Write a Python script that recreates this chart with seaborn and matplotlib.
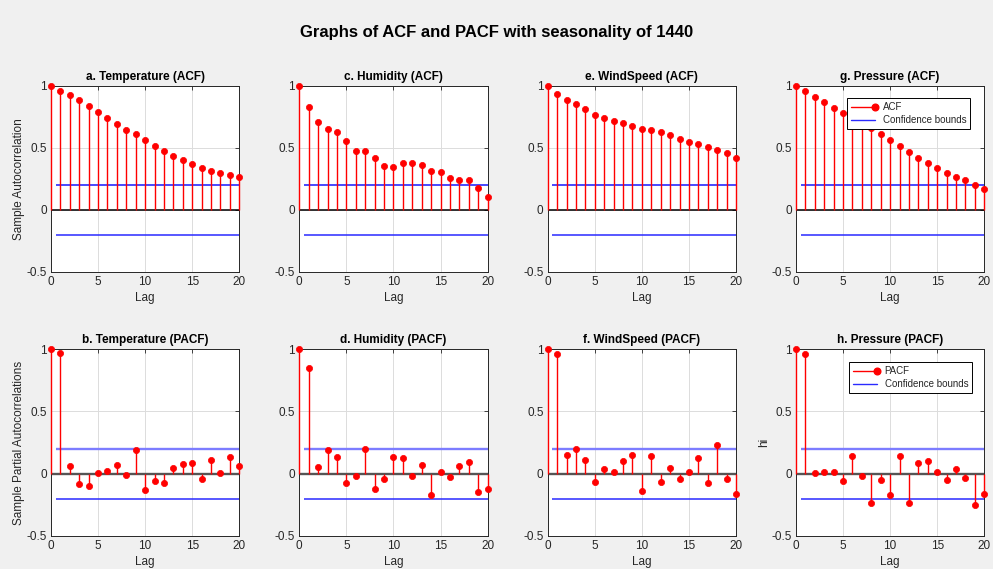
import numpy as np
import pandas as pd
import matplotlib
matplotlib.use("Agg")
import matplotlib.pyplot as plt
import seaborn as sns
from matplotlib.lines import Line2D
from matplotlib.legend_handler import HandlerBase

lags = list(range(21))

temp_acf = [1.0, 0.963, 0.928, 0.888, 0.840, 0.791, 0.741, 0.693, 0.644, 0.610, 0.567,
            0.519, 0.473, 0.436, 0.401, 0.369, 0.340, 0.316, 0.297, 0.281, 0.267]
hum_acf = [1.0, 0.829, 0.706, 0.652, 0.628, 0.553, 0.479, 0.473, 0.422, 0.356, 0.348,
           0.380, 0.380, 0.361, 0.318, 0.305, 0.262, 0.241, 0.238, 0.176, 0.104]
wind_acf = [1.0, 0.936, 0.888, 0.856, 0.816, 0.770, 0.738, 0.714, 0.698, 0.679, 0.655,
            0.644, 0.631, 0.607, 0.575, 0.551, 0.535, 0.505, 0.487, 0.463, 0.417]
pres_acf = [1.0, 0.957, 0.909, 0.869, 0.826, 0.783, 0.743, 0.700, 0.658, 0.610, 0.561,
            0.519, 0.471, 0.422, 0.380, 0.340, 0.299, 0.265, 0.238, 0.203, 0.168]

temp_pacf = [1.0, 0.968, 0.064, -0.086, -0.096, 0.003, 0.021, 0.070, -0.013, 0.190, -0.128,
             -0.061, -0.075, 0.043, 0.078, 0.086, -0.043, 0.110, 0.008, 0.131, 0.064]
hum_pacf = [1.0, 0.850, 0.056, 0.193, 0.131, -0.075, -0.019, 0.195, -0.126, -0.045, 0.134,
            0.128, -0.016, 0.072, -0.174, 0.016, -0.029, 0.061, 0.094, -0.144, -0.126]
wind_pacf = [1.0, 0.963, 0.152, 0.195, 0.107, -0.067, 0.035, 0.013, 0.099, 0.152, -0.142,
             0.144, -0.070, 0.048, -0.040, 0.013, 0.123, -0.078, 0.233, -0.040, -0.163]
pres_pacf = [1.0, 0.960, 0.008, 0.016, 0.016, -0.061, 0.142, -0.019, -0.235, -0.051, -0.171,
             0.144, -0.233, 0.088, 0.099, 0.016, -0.053, 0.037, -0.035, -0.249, -0.163]

conf_bound = 0.2

acf_titles = ["a. Temperature (ACF)", "c. Humidity (ACF)", "e. WindSpeed (ACF)", "g. Pressure (ACF)"]
pacf_titles = ["b. Temperature (PACF)", "d. Humidity (PACF)", "f. WindSpeed (PACF)", "h. Pressure (PACF)"]
acf_series = [temp_acf, hum_acf, wind_acf, pres_acf]
pacf_series = [temp_pacf, hum_pacf, wind_pacf, pres_pacf]

sns.set_theme(style="white")
plt.rcParams["font.family"] = ["Liberation Sans", "DejaVu Sans"]

BG = "#f0f0f0"
TXT = "#262626"
STEM = "#ff0000"
BOUND = "#2a2aff"
fig = plt.figure(figsize=(9.93, 5.69), dpi=100, facecolor=BG)

W, H = 993, 569
col_left = [51, 299.3, 547.7, 796]
ax_w = 188.3
rows = [(86, 272), (349, 536)]


class StemLegendHandler(HandlerBase):
    """Legend entry for a stem series: a line with the marker at its right end."""

    def create_artists(self, legend, orig_handle, xdescent, ydescent, width, height,
                       fontsize, trans):
        y = (height - ydescent) / 2
        x0, x1 = -xdescent, -xdescent + width
        line = Line2D([x0, x1], [y, y], color=STEM, lw=1.0)
        mark = Line2D([x1], [y], color=STEM, marker="o", markersize=4.8, ls="none")
        for artist in (line, mark):
            artist.set_transform(trans)
        return [line, mark]


def stem_panel(ax, values, title, ylabel, upper_style, baseline_color, baseline_lw):
    df = pd.DataFrame({"Lag": lags, "value": values})
    ax.vlines(df["Lag"], 0, df["value"], color=STEM, lw=1.0, zorder=3, clip_on=False)
    sns.scatterplot(data=df, x="Lag", y="value", ax=ax, color=STEM, s=20,
                    edgecolor=STEM, linewidth=0.5, zorder=4, legend=False,
                    clip_on=False)
    ax.hlines(conf_bound, 0.5, 20, color=upper_style[0], lw=upper_style[1], zorder=2)
    ax.hlines(-conf_bound, 0.5, 20, color=BOUND, lw=1.1, zorder=2)
    ax.hlines(0, 0, 20, color=baseline_color, lw=baseline_lw, zorder=2.5)
    ax.set_xlim(0, 20)
    ax.set_ylim(-0.5, 1)
    ax.set_xticks([0, 5, 10, 15, 20])
    ax.set_yticks([-0.5, 0, 0.5, 1])
    ax.set_yticklabels(["-0.5", "0", "0.5", "1"])
    ax.grid(True, color="#dcdcdc", lw=0.7, zorder=0)
    ax.set_axisbelow(True)
    ax.tick_params(direction="in", length=3, width=0.6, colors=TXT, labelsize=8.5,
                   top=True, right=True, labelcolor=TXT, pad=3)
    for sp in ax.spines.values():
        sp.set_color(TXT)
        sp.set_linewidth(0.7)
        sp.set_visible(True)
    ax.set_facecolor("white")
    ax.set_title(title, fontsize=8.5, fontweight="bold", color="black", pad=4)
    ax.set_xlabel("Lag", fontsize=8.5, color=TXT, labelpad=3)
    ax.set_ylabel(ylabel, fontsize=8.5, color=TXT, labelpad=1)


axes = []
for r, (series, titles) in enumerate([(acf_series, acf_titles), (pacf_series, pacf_titles)]):
    top, bottom = rows[r]
    for c in range(4):
        ax = fig.add_axes([col_left[c] / W, 1 - bottom / H, ax_w / W, (bottom - top) / H])
        if r == 0:
            ylabel = "Sample Autocorrelation" if c == 0 else ""
            stem_panel(ax, series[c], titles[c], ylabel, ("#4848ff", 1.4), "black", 1.1)
        else:
            ylabel = {0: "Sample Partial Autocorrelations", 3: "hi"}.get(c, "")
            stem_panel(ax, series[c], titles[c], ylabel, ("#7c7cff", 1.7), "#555555", 1.7)
        axes.append(ax)

# legends on the pressure panels
for ax, name, anchor in [(axes[3], "ACF", (0.925, 0.935)), (axes[7], "PACF", (0.936, 0.93))]:
    stem_handle = Line2D([0], [0], color=STEM, lw=1.0, marker="o", markersize=4.8)
    bound_handle = Line2D([0], [0], color=BOUND, lw=1.0)
    leg = ax.legend([stem_handle, bound_handle], [name, "Confidence bounds"], loc="upper right",
                    bbox_to_anchor=anchor, fontsize=7, frameon=True, fancybox=False,
                    edgecolor="black", framealpha=1, numpoints=1, handlelength=2.5,
                    borderpad=0.4, labelspacing=0.35, handletextpad=0.8, borderaxespad=0,
                    handler_map={stem_handle: StemLegendHandler()})
    leg.get_frame().set_linewidth(0.7)
    leg.set_zorder(10)

fig.suptitle("Graphs of ACF and PACF with seasonality of 1440", fontsize=12,
             fontweight="bold", color="black", y=1 - 33 / H, va="center")

fig.savefig("out.png", dpi=100, facecolor=BG)
